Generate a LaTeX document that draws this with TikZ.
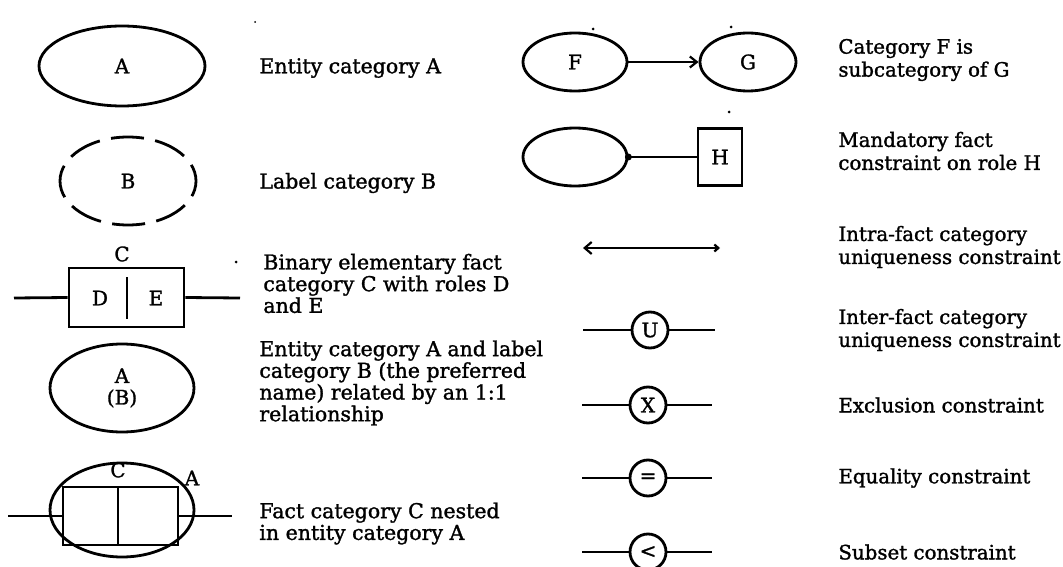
\documentclass[tikz,border=0pt]{standalone}
\usepackage{fontspec}
\setmainfont{DejaVu Serif}[FakeBold=1.4]
\usetikzlibrary{arrows.meta,shapes.geometric}

\begin{document}
\begin{tikzpicture}[x=1pt,y=-1pt,line width=2.8pt,
  every node/.style={inner sep=0pt},
  txt/.style={anchor=west,align=left,font=\fontsize{20.5}{21.7}\selectfont},
  txtr/.style={txt,font=\fontsize{19.8}{23}\selectfont},
  sym/.style={font=\fontsize{20}{21.5}\selectfont},
  oval/.style={draw,ellipse,sym},
  cbox/.style={draw,rectangle},
  ring/.style={draw,circle,minimum size=36pt,sym},
  speck/.style={fill,circle,minimum size=#1},
  barb/.style={-{Straight Barb[length=7pt,width=11pt,line width=2.2pt]}}]
\useasboundingbox (0,0) rectangle (1063,567);

% ---------- left column ----------
% entity category
\node[oval,minimum width=166pt,minimum height=80pt] (ea) at (122,66) {A};
\node[txt] (tea) at (258,68) {Entity category A};
\node[speck=2pt] (s1) at (255,22) {};

% label category
\node[oval,dash pattern=on 33pt off 11.5pt,dash phase=16pt,
      minimum width=136pt,minimum height=88pt] (lb) at (128,181) {B};
\node[txt] (tlb) at (258,183) {Label category B};

% binary elementary fact
\node[cbox,minimum width=115pt,minimum height=59pt] (fc) at (126.5,297.5) {};
\node[sym] (fcn) at (122,254) {C};
\node[sym] (rd) at (100,298) {D};
\node[sym] (re) at (156,298) {E};
\coordinate (fm1) at (127,277);
\coordinate (fm2) at (127,319);
\draw (fm1) -- (fm2);
\coordinate (fcL) at (14,298);
\coordinate (fcR) at (240,298);
\draw (fcL) -- (fc.west);
\draw (fc.east) -- (fcR);
\node[speck=3pt] (s2) at (236,262) {};
\node[txt] (tfc) at (262,283.5) {Binary elementary fact\\category C with roles D\\and E};

% entity with label
\node[oval,align=center,minimum width=144pt,minimum height=88pt] (eab) at (122,388) {A\\(B)};
\node[txt] (teab) at (258,383) {Entity category A and label\\category B (the preferred\\name) related by an 1:1\\relationship};

% nested fact
\node[draw,ellipse,minimum width=144pt,minimum height=94pt] (ne) at (122,510) {};
\node[cbox,minimum width=115pt,minimum height=58pt] (nb) at (120.5,516) {};
\coordinate (nm1) at (118,487);
\coordinate (nm2) at (118,545);
\draw (nm1) -- (nm2);
\node[sym] (nc) at (118,470) {C};
\node[sym] (na) at (192,478) {A};
\coordinate (nbL) at (8,516);
\coordinate (nbR) at (232,516);
\draw (nbL) -- (nb.west);
\draw (nb.east) -- (nbR);
\node[txt] (tne) at (258,523.5) {Fact category C nested\\in entity category A};

% ---------- right column ----------
% subcategory
\node[oval,minimum width=104pt,minimum height=58pt] (ef) at (575,62) {F};
\node[oval,minimum width=96pt,minimum height=58pt] (eg) at (748,62) {G};
\draw[barb] (ef) -- (eg);
\node[speck=3pt] (s3) at (593,29) {};
\node[speck=3pt] (s4) at (731,27) {};
\node[txtr] (tsub) at (837,60) {Category F is\\subcategory of G};

% mandatory role
\node[draw,ellipse,minimum width=104pt,minimum height=58pt] (em) at (575,157) {};
\node[cbox,sym,minimum width=44pt,minimum height=57pt] (rh) at (720,157) {H};
\draw (em.east) -- (rh.west);
\fill (em.east) circle (3.5pt);
\node[speck=3pt] (s5) at (729,112) {};
\node[txtr] (tman) at (837,151) {Mandatory fact\\constraint on role H};

% intra-fact uniqueness
\coordinate (ia) at (583,248);
\coordinate (ib) at (720,248);
\draw[{Straight Barb[length=7pt,width=12pt,line width=2.2pt]}-{Straight Barb[length=4pt,width=7pt,line width=2.2pt]}] (ia) -- (ib);
\node[txtr] (tintra) at (837,247) {Intra-fact category\\uniqueness constraint};

% inter-fact uniqueness
\node[ring] (cu) at (650,330) {U};
\coordinate (ua) at (583,330);
\coordinate (ub) at (715,330);
\draw (ua) -- (cu.west);
\draw (cu.east) -- (ub);
\node[txtr] (tinter) at (837,330) {Inter-fact category\\uniqueness constraint};

% exclusion
\node[ring] (cx) at (648,405) {X};
\coordinate (xa) at (582,405);
\coordinate (xb) at (712,405);
\draw (xa) -- (cx.west);
\draw (cx.east) -- (xb);
\node[txtr] (texc) at (837,405) {Exclusion constraint};

% equality
\node[ring] (ce) at (648,478) {=};
\coordinate (qa) at (582,478);
\coordinate (qb) at (712,478);
\draw (qa) -- (ce.west);
\draw (ce.east) -- (qb);
\node[txtr] (tequ) at (837,478) {Equality constraint};

% subset
\node[ring] (cs) at (648,552) {<};
\coordinate (sa) at (582,552);
\coordinate (sb) at (712,552);
\draw (sa) -- (cs.west);
\draw (cs.east) -- (sb);
\node[txtr] (tsubset) at (837,552) {Subset constraint};
\end{tikzpicture}
\end{document}
